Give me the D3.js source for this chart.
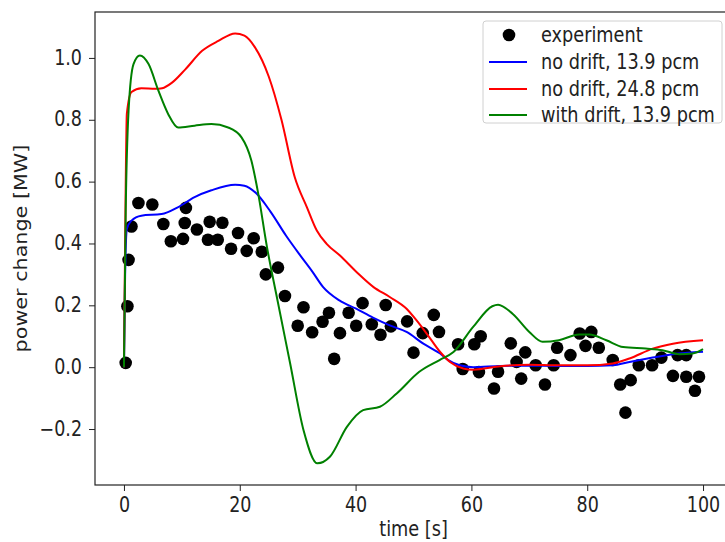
<!DOCTYPE html>
<meta charset="utf-8">
<html>
<head>
  <script src="https://d3js.org/d3.v7.min.js" charset="utf-8"></script>
</head>
<style>
* { font-family: "DejaVu Sans", sans-serif; }
body { margin: 0; background-color: white; }
.tick text { font-size: 17.5px; fill: #222; }
.tick line { stroke: #222; }
.label { font-size: 17.7px; fill: #222; }
</style>
<body>
<div id="container"></div>
<script type="text/javascript">

// experiment points
var expTime = [0.3, 0.6, 0.8, 1.3, 2.5, 4.9, 6.8, 8.1, 10.2, 10.5, 10.7, 12.6, 14.5, 14.8, 16.2, 17.0,
  18.5, 19.7, 21.2, 22.4, 23.8, 24.5, 26.6, 27.8, 30.0, 31.0, 32.5, 34.3, 35.4, 36.3, 37.3, 38.8,
  40.1, 41.2, 42.8, 44.3, 45.2, 46.1, 48.9, 50.0, 51.6, 53.5, 54.4, 57.7, 58.5, 60.5, 61.3, 61.6,
  63.9, 64.6, 66.8, 67.8, 68.6, 69.3, 71.1, 72.7, 74.2, 74.8, 77.1, 78.7, 79.7, 80.7, 82.0, 84.4,
  85.7, 86.6, 87.5, 88.9, 91.2, 92.8, 94.8, 95.6, 97.1, 97.1, 98.6, 99.3];
var expPower = [0.014, 0.197, 0.347, 0.455, 0.531, 0.526, 0.463, 0.407, 0.415, 0.466, 0.515, 0.445, 0.412, 0.47, 0.412, 0.467,
  0.383, 0.434, 0.376, 0.417, 0.373, 0.3, 0.322, 0.23, 0.134, 0.194, 0.113, 0.147, 0.176, 0.027, 0.11, 0.176,
  0.134, 0.207, 0.139, 0.105, 0.201, 0.132, 0.148, 0.047, 0.11, 0.169, 0.114, 0.074, -0.006, 0.074, -0.016, 0.1,
  -0.069, -0.015, 0.077, 0.017, -0.037, 0.048, 0.006, -0.056, 0.006, 0.063, 0.039, 0.109, 0.069, 0.114, 0.063, 0.023,
  -0.056, -0.147, -0.042, 0.006, 0.006, 0.031, -0.028, 0.039, 0.039, -0.031, -0.076, -0.031];

// no drift, 13.9 pcm
var blueTime = [0, 0.2, 0.5, 1.3, 3, 6.5, 9.3, 12.2, 15.1, 19.2, 20.8, 22.8, 25.3, 28, 30.5, 32.5, 34.4, 37.2,
  40.1, 43, 45.9, 48.8, 51.7, 54.6, 56, 58, 60.3, 65, 70, 75, 80, 84.4, 87.3, 91.3, 94.7, 100];
var bluePower = [0, 0.3, 0.447, 0.474, 0.49, 0.495, 0.517, 0.55, 0.572, 0.59, 0.587, 0.563, 0.503, 0.425, 0.36, 0.31, 0.259, 0.216,
  0.189, 0.16, 0.135, 0.114, 0.076, 0.044, 0.023, 0.006, 0, 0.004, 0.005, 0.004, 0.004, 0.006, 0.017, 0.031, 0.042, 0.05];

// no drift, 24.8 pcm
var redTime = [0, 0.2, 0.5, 1.3, 3, 5.4, 6.6, 8.3, 10.6, 13.5, 16.3, 19.2, 20.8, 22.6, 25, 27.2, 29.5, 31.6, 33.3,
  35, 37.3, 40.2, 43.1, 45.9, 48.8, 50.5, 52.3, 54.6, 56.3, 58.6, 60.3, 65, 70, 75, 80, 84.4, 87.3, 91.3, 94.8, 100];
var redPower = [0, 0.4, 0.82, 0.89, 0.902, 0.9, 0.902, 0.92, 0.963, 1.023, 1.055, 1.079, 1.072, 1.035, 0.94, 0.8, 0.614, 0.517, 0.442,
  0.399, 0.361, 0.307, 0.259, 0.227, 0.189, 0.152, 0.108, 0.049, 0.017, -0.004, -0.008, 0.003, 0.008, 0.006, 0.006, 0.012, 0.028, 0.06, 0.076, 0.087];

// with drift, 13.9 pcm
var greenTime = [0, 0.3, 0.8, 1.65, 2.75, 4.25, 5.95, 7.65, 9.35, 12.2, 15.1, 18, 20.3, 22, 23.1, 24.7, 26.4, 28.7,
  31, 33.4, 35.6, 38.5, 41.3, 44.2, 47.1, 51, 54.5, 56.9, 60.3, 63.6, 64.6, 67.1, 70, 72.3, 75.1, 78.6, 80.4,
  83.3, 86.2, 90.1, 93, 95.9, 98.2, 100];
var greenPower = [0, 0.5, 0.83, 0.98, 1.008, 0.98, 0.894, 0.818, 0.775, 0.781, 0.786, 0.775, 0.743, 0.668, 0.57, 0.388, 0.227, 0.012,
  -0.203, -0.311, -0.289, -0.193, -0.139, -0.128, -0.085, -0.015, 0.023, 0.049, 0.13, 0.197, 0.202, 0.173, 0.114, 0.082, 0.087, 0.106, 0.106,
  0.087, 0.065, 0.06, 0.055, 0.042, 0.044, 0.058];

var seriesNames = ["no drift, 13.9 pcm", "no drift, 24.8 pcm", "with drift, 13.9 pcm"];
var seriesColors = ["#0000ff", "#ff0000", "#008000"];
var xTicks = [0, 20, 40, 60, 80, 100];
var yTicks = [-0.2, 0, 0.2, 0.4, 0.6, 0.8, 1.0];

var width = 725;
var height = 542;
var plot = {left: 95, right: 732, top: 12, bottom: 485};
var stretch = 1.17;   // the reference is a bit taller than wide

var svg = d3.select("#container")
            .append("svg")
            .attr("width", width)
            .attr("height", height);

var xScale = d3.scaleLinear()
               .domain([-5, 105])
               .range([plot.left, plot.right]);

var yScale = d3.scaleLinear()
               .domain([-0.381, 1.1485])
               .range([plot.bottom, plot.top]);

// axes
var xAxis = d3.axisBottom(xScale).tickValues(xTicks).tickSize(6).tickSizeOuter(0).tickPadding(7);
var yAxis = d3.axisLeft(yScale).tickValues(yTicks).tickSize(6).tickSizeOuter(0).tickPadding(7)
              .tickFormat(d3.format(".1f"));

var gx = svg.append("g")
   .attr("transform", "translate(0," + plot.bottom + ")")
   .call(xAxis);
gx.select(".domain").remove();
gx.selectAll("text").attr("transform", "scale(1," + stretch + ")").attr("y", 11);

var gy = svg.append("g")
   .attr("transform", "translate(" + plot.left + ",0)")
   .call(yAxis);
gy.select(".domain").remove();
gy.selectAll(".tick text")
  .attr("transform", "scale(1," + stretch + ")")
  .attr("dy", "0.3em");

// clip to plot area
svg.append("clipPath").attr("id", "clip")
   .append("rect")
   .attr("x", plot.left).attr("y", plot.top)
   .attr("width", plot.right - plot.left).attr("height", plot.bottom - plot.top);

var area = svg.append("g").attr("clip-path", "url(#clip)");

// experiment
area.selectAll("circle")
    .data(expTime)
    .enter()
    .append("circle")
    .attr("cx", function(d) { return xScale(d); })
    .attr("cy", function(d, i) { return yScale(expPower[i]); })
    .attr("r", 6.3)
    .attr("fill", "black");

var line = d3.line()
             .x(function(d) { return xScale(d[0]); })
             .y(function(d) { return yScale(d[1]); })
             .curve(d3.curveMonotoneX);

var series = [d3.zip(blueTime, bluePower), d3.zip(redTime, redPower), d3.zip(greenTime, greenPower)];

series.forEach(function(s, i) {
    area.append("path")
        .datum(s)
        .attr("d", line)
        .attr("fill", "none")
        .attr("stroke", seriesColors[i])
        .attr("stroke-width", 2);
});

// frame
svg.append("rect")
   .attr("x", plot.left).attr("y", plot.top)
   .attr("width", plot.right - plot.left).attr("height", plot.bottom - plot.top)
   .attr("fill", "none")
   .attr("stroke", "#222")
   .attr("stroke-width", 1.2);

// axis labels
svg.append("text")
   .attr("class", "label")
   .attr("text-anchor", "middle")
   .attr("transform", "translate(" + ((plot.left + plot.right) / 2) + ",536) scale(1," + stretch + ")")
   .text("time [s]");

svg.append("text")
   .attr("class", "label")
   .attr("text-anchor", "middle")
   .attr("transform", "translate(27," + ((plot.top + plot.bottom) / 2) + ") rotate(-90) scale(" + stretch + ",1)")
   .text("power change [MW]");

// legend
var legend = svg.append("g");
legend.append("rect")
      .attr("x", 483).attr("y", 21)
      .attr("width", 239).attr("height", 102)
      .attr("rx", 3)
      .attr("fill", "white").attr("fill-opacity", 0.8)
      .attr("stroke", "#d0d0d0");

var rowY = [35, 62, 89, 115];
legend.append("circle")
      .attr("cx", 509).attr("cy", rowY[0]).attr("r", 6.3).attr("fill", "black");
legend.append("text")
      .attr("class", "label")
      .attr("transform", "translate(541," + rowY[0] + ") scale(1," + stretch + ")")
      .attr("dy", "0.35em")
      .text("experiment");

seriesNames.forEach(function(name, i) {
    legend.append("line")
          .attr("x1", 489).attr("x2", 527)
          .attr("y1", rowY[i + 1]).attr("y2", rowY[i + 1])
          .attr("stroke", seriesColors[i]).attr("stroke-width", 2);
    legend.append("text")
          .attr("class", "label")
          .attr("transform", "translate(541," + rowY[i + 1] + ") scale(1," + stretch + ")")
          .attr("dy", "0.35em")
          .text(name);
});
</script>
</body>
</html>
